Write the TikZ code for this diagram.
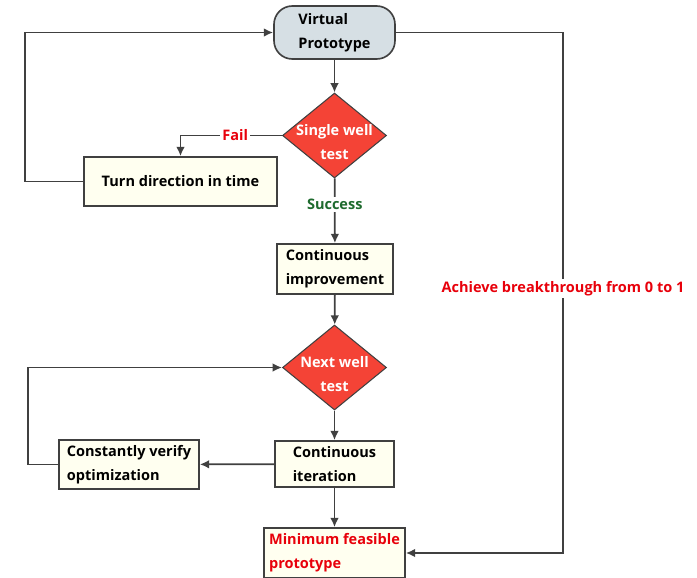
\documentclass[tikz,border=0pt]{standalone}
\usepackage{fontspec}
\setmainfont{Open Sans}
\usetikzlibrary{arrows.meta, shapes.geometric}
\definecolor{linegray}{HTML}{404040}
\definecolor{boxfill}{HTML}{FFFFF0}
\definecolor{protofill}{HTML}{D6DFE4}
\definecolor{testred}{HTML}{F44336}
\definecolor{labelred}{HTML}{E8000B}
\definecolor{labelgreen}{HTML}{1E6B2E}
\tikzset{%
>={Latex[width=2.6mm,length=2.8mm]},
  % Specifications for style of nodes:
            stepbox/.style = {rectangle, draw=linegray, line width=1.4pt,
                            fill=boxfill, inner sep=0pt, align=left,
                            font=\bfseries\fontsize{12.4}{20.5}\selectfont},
            protobox/.style = {stepbox, fill=protofill, rounded corners=0.55cm},
            testnode/.style = {diamond, aspect=1.25, draw=linegray, line width=0.9pt,
                            fill=testred, text=white, inner xsep=-0.5cm, inner ysep=-0.55cm,
                            align=center, minimum width=3.12cm, minimum height=2.55cm,
                            font=\bfseries\fontsize{12.4}{20.5}\selectfont},
            flowlabel/.style = {fill=white, inner sep=2pt,
                            font=\bfseries\fontsize{12.4}{20.5}\selectfont},
            flow/.style = {draw=linegray, line width=1.5pt, ->}
}
\begin{document}
\begin{tikzpicture}[x=0.03cm, y=-0.03cm]
                        \useasboundingbox (0,0) rectangle (697,577);
                        % main column
                        \node[protobox, minimum width=3.63cm, minimum height=1.59cm] (proto) at (334.5,32.5) {Virtual\\Prototype};
                        \node[testnode] (single) at (334.5,135.5) {\mbox{}\\Single well\\test};
                        \node[stepbox, minimum width=5.79cm, minimum height=1.47cm, align=center] (turn) at (180.5,181.5) {Turn direction in time};
                        \node[stepbox, minimum width=3.48cm, minimum height=1.5cm] (improve) at (335,269) {Continuous\\improvement};
                        \node[testnode] (next) at (334.5,367.5) {\mbox{}\\Next well\\test};
                        \node[stepbox, minimum width=3.57cm, minimum height=1.38cm] (iterate) at (334.5,464) {Continuous\\iteration};
                        \node[stepbox, minimum width=4.2cm, minimum height=1.47cm] (verify) at (129,464.5) {Constantly verify\\optimization};
                        \node[stepbox, minimum width=4.23cm, minimum height=1.5cm, text=labelred] (mvp) at (334.5,553) {Minimum feasible\\prototype};
                        % corners of the loops
                        \coordinate (turnloop) at (25,181.5);
                        \coordinate (verifyloop) at (28,464.5);
                        \coordinate (jump) at (563,32.5);
                        % connectors
                        \draw[flow] (proto) -- (single);
                        \draw[flow] (single) -| node[flowlabel, pos=0.23, text=labelred] {Fail} (turn);
                        \draw[flow] (turn) -- (turnloop) |- (proto);
                        \draw[flow] (single) -- node[flowlabel, pos=0.4, text=labelgreen] {Success} (improve);
                        \draw[flow] (improve) -- (next);
                        \draw[flow] (next) -- (iterate);
                        \draw[flow] (iterate) -- (verify);
                        \draw[flow] (verify) -- (verifyloop) |- (next);
                        \draw[flow] (iterate) -- (mvp);
                        \draw[flow] (proto) -- (jump) |- node[flowlabel, pos=0.246, text=labelred] {Achieve breakthrough from 0 to 1} (mvp);
                    \end{tikzpicture}
\end{document}
